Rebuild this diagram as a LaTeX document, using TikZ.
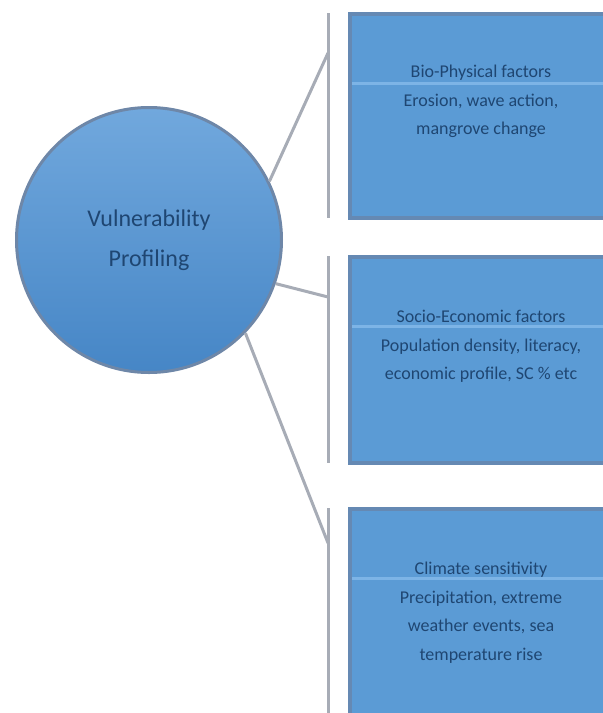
\documentclass[tikz,border=0pt]{standalone}
\usepackage{fontspec}
\setmainfont{Carlito}
\usepackage{xcolor}
\usetikzlibrary{positioning}
\definecolor{boxblue}{HTML}{5B9BD5}
\definecolor{boxline}{HTML}{6589B3}
\definecolor{glintblue}{HTML}{7DB4E6}
\definecolor{hubtop}{HTML}{71A8DD}
\definecolor{hubbot}{HTML}{4686C6}
\definecolor{hubline}{HTML}{6E87A8}
\definecolor{txtblue}{HTML}{1F4672}
\definecolor{spokegray}{HTML}{A7ACB6}

\begin{document}
\begin{tikzpicture}[x=1pt,y=-1pt,
	hub/.style={circle,draw=hubline,line width=3pt,top color=hubtop,bottom color=hubbot,minimum size=265pt,inner sep=0pt,align=center,text=txtblue,font=\fontsize{24}{40}\selectfont},
	factbox/.style={rectangle,draw=boxline,line width=4pt,fill=boxblue,minimum width=262pt,inner sep=0pt},
	facttext/.style={align=center,text=txtblue,inner sep=0pt,font=\fontsize{18}{28.5}\selectfont},
	glint/.style={draw=glintblue,line width=3pt},
	spoke/.style={draw=spokegray,line width=3pt}]
		\useasboundingbox (0,0) rectangle (603,713);
		% hub
		\node[hub] (vp) at (149,240) {Vulnerability\\Profiling};
		% factor boxes
		\node[factbox,minimum height=204pt] (bio) at (481,116) {};
		\node[factbox,minimum height=206pt] (socio) at (481,360) {};
		\node[factbox,minimum height=208pt] (climate) at (481,613) {};
		\foreach \b in {bio,socio,climate}
			\draw[glint] ([xshift=4pt,yshift=-71pt]\b.north west) -- ([yshift=-71pt]\b.north east);
		\node[facttext,below=53pt of bio.north] (biotext) {Bio-Physical factors\\Erosion, wave action,\\mangrove change};
		\node[facttext,below=55pt of socio.north] (sociotext) {Socio-Economic factors\\Population density, literacy,\\economic profile, SC \% etc};
		\node[facttext,below=55pt of climate.north] (climatetext) {Climate sensitivity\\Precipitation, extreme\\weather events, sea\\temperature rise};
		% brackets
		\foreach \b in {bio,socio,climate}
			\draw[spoke] ([xshift=-20pt,yshift=-1pt]\b.north west) -- ([xshift=-20pt,yshift=2pt]\b.south west);
		\coordinate (biohook) at ([xshift=-20pt,yshift=-41pt]bio.north west);
		\coordinate (sociohook) at ([xshift=-20pt,yshift=-42pt]socio.north west);
		\coordinate (climatehook) at ([xshift=-20pt,yshift=-36pt]climate.north west);
		% spokes
		\draw[spoke] (vp.26) -- (biohook);
		\draw[spoke] (vp.-19) -- (sociohook);
		\draw[spoke] (vp.-44) -- (climatehook);
	\end{tikzpicture}
\end{document}
